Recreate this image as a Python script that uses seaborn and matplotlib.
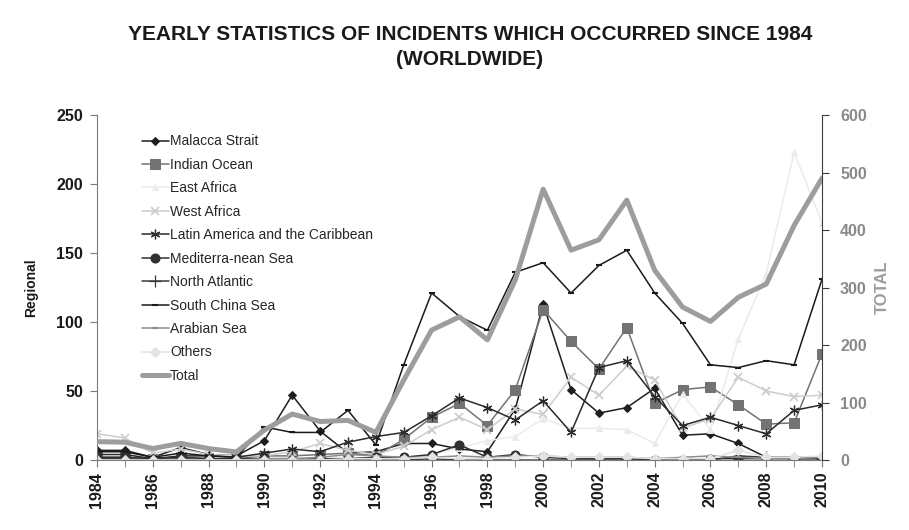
import numpy as np
import pandas as pd
import matplotlib.pyplot as plt
import seaborn as sns

years = list(range(1984, 2011))

malacca = [7, 7, 2, 9, 4, 3, 14, 47, 21, 5, 6, 12, 12, 8, 6, 37, 113, 51, 34, 38, 52, 18, 19, 12, 2, 2, 2]
indian_ocean = [2, 2, 1, 2, 1, 1, 3, 3, 4, 5, 3, 15, 31, 41, 25, 51, 109, 86, 66, 96, 41, 51, 53, 40, 26, 27, 77]
east_africa = [0, 0, 0, 1, 0, 0, 1, 2, 0, 2, 1, 2, 4, 9, 14, 17, 30, 23, 23, 22, 12, 48, 22, 88, 135, 223, 172]
west_africa = [19, 16, 5, 8, 4, 3, 3, 6, 12, 7, 4, 10, 22, 31, 22, 37, 33, 60, 47, 68, 58, 23, 30, 60, 50, 46, 47]
latin_america = [4, 4, 1, 3, 3, 2, 5, 8, 6, 13, 17, 20, 32, 45, 38, 29, 43, 20, 67, 72, 46, 25, 31, 25, 19, 36, 40]
mediterranean = [2, 2, 1, 2, 1, 1, 1, 0, 1, 1, 2, 2, 4, 11, 2, 4, 2, 1, 1, 1, 0, 0, 1, 1, 1, 1, 1]
north_atlantic = [1, 1, 0, 1, 0, 0, 0, 1, 0, 0, 0, 0, 1, 0, 0, 0, 0, 0, 0, 0, 0, 0, 0, 3, 2, 1, 1]
south_china_sea = [6, 6, 2, 5, 3, 2, 24, 20, 20, 36, 11, 69, 121, 104, 94, 136, 143, 121, 141, 152, 121, 99, 69, 67, 72, 69, 131]
arabian_sea = [0, 0, 0, 0, 0, 0, 1, 1, 2, 4, 3, 2, 2, 3, 2, 3, 3, 2, 2, 2, 1, 2, 3, 2, 1, 1, 2]
others = [0, 0, 0, 0, 0, 0, 0, 0, 0, 1, 1, 1, 2, 1, 1, 2, 3, 2, 2, 2, 1, 1, 1, 7, 2, 2, 3]
total = [32, 31, 20, 29, 20, 14, 52, 80, 67, 69, 48, 139, 226, 249, 209, 313, 471, 365, 383, 452, 330, 266, 241, 283, 306, 408, 490]

series = [
    ("Malacca Strait", malacca, dict(color="#1e1e1e", marker="D", markersize=4.5)),
    ("Indian Ocean", indian_ocean, dict(color="#737373", marker="s", markersize=7)),
    ("East Africa", east_africa, dict(color="#ebebeb", marker="^", markersize=5)),
    ("West Africa", west_africa, dict(color="#cdcdcd", marker="x", markersize=6, markeredgewidth=1.3)),
    ("Latin America and the Caribbean", latin_america, dict(color="#2b2b2b", marker=(6, 2, 0), markersize=7, markeredgewidth=0.9)),
    ("Mediterra-nean Sea", mediterranean, dict(color="#303030", marker="o", markersize=6.5)),
    ("North Atlantic", north_atlantic, dict(color="#3a3a3a", marker="+", markersize=8, markeredgewidth=0.9)),
    ("South China Sea", south_china_sea, dict(color="#1a1a1a", marker="_", markersize=5, markeredgewidth=1.5)),
    ("Arabian Sea", arabian_sea, dict(color="#8c8c8c", marker="_", markersize=5, markeredgewidth=1.5)),
    ("Others", others, dict(color="#e3e3e3", marker="D", markersize=5)),
]

sns.set_style("white")
plt.rcParams["font.family"] = ["Liberation Sans", "DejaVu Sans"]

fig = plt.figure(figsize=(9.09, 5.30), dpi=100)
ax = fig.add_axes([0.1067, 0.132, 0.7976, 0.651])

for name, vals, st in series:
    sns.lineplot(x=years, y=vals, ax=ax, label=name, linewidth=1.1,
                 markeredgecolor=st["color"], **st)

ax2 = ax.twinx()
sns.lineplot(x=years, y=total, ax=ax2, label="Total", color="#9d9d9d", linewidth=3.6)

ax.set_xlim(1984, 2010)
ax.set_ylim(0, 250)
ax2.set_ylim(0, 600)
ax.set_yticks(range(0, 251, 50))
ax2.set_yticks(range(0, 601, 100))
ax.set_xticks(range(1984, 2011, 2))
ax.set_xticks(range(1984, 2011), minor=True)

for a in (ax, ax2):
    a.spines["top"].set_visible(False)
ax.spines["left"].set_color("#7a7a7a")
ax.spines["bottom"].set_color("#7a7a7a")
ax.spines["right"].set_visible(False)
ax2.spines["left"].set_visible(False)
ax2.spines["bottom"].set_visible(False)
ax2.spines["right"].set_color("#3c3c3c")

ax.tick_params(axis="y", left=True, length=5, color="#7a7a7a", labelsize=11.5, labelcolor="#1a1a1a", pad=5)
ax.tick_params(axis="x", which="both", bottom=True, length=5, color="#7a7a7a", labelsize=11.5, labelcolor="#1a1a1a", rotation=90)
ax2.tick_params(axis="y", right=True, length=5, color="#3c3c3c", labelsize=11.5, labelcolor="#8a8a8a", pad=8)
for lab in ax.get_xticklabels() + ax.get_yticklabels() + ax2.get_yticklabels():
    lab.set_fontweight("bold")

ax.set_xlabel("")
ax.set_ylabel("Regional", fontsize=10, fontweight="bold", color="#1a1a1a", labelpad=13)
ax2.set_ylabel("TOTAL", fontsize=12, fontweight="bold", color="#9d9d9d", labelpad=6)

h1, l1 = ax.get_legend_handles_labels()
h2, l2 = ax2.get_legend_handles_labels()
ax.get_legend().remove()
ax2.legend(h1 + h2, l1 + l2, loc="upper left", bbox_to_anchor=(0.045, 0.98),
           frameon=False, fontsize=10, labelspacing=0.68, handlelength=1.9,
           handletextpad=0.1)

fig.text(0.517, 0.935, "YEARLY STATISTICS OF INCIDENTS WHICH OCCURRED SINCE 1984",
         ha="center", va="center", fontsize=15, fontweight="bold", color="#1a1a1a")
fig.text(0.517, 0.888, "(WORLDWIDE)", ha="center", va="center",
         fontsize=15, fontweight="bold", color="#1a1a1a")

fig.savefig("out.png", dpi=100)
